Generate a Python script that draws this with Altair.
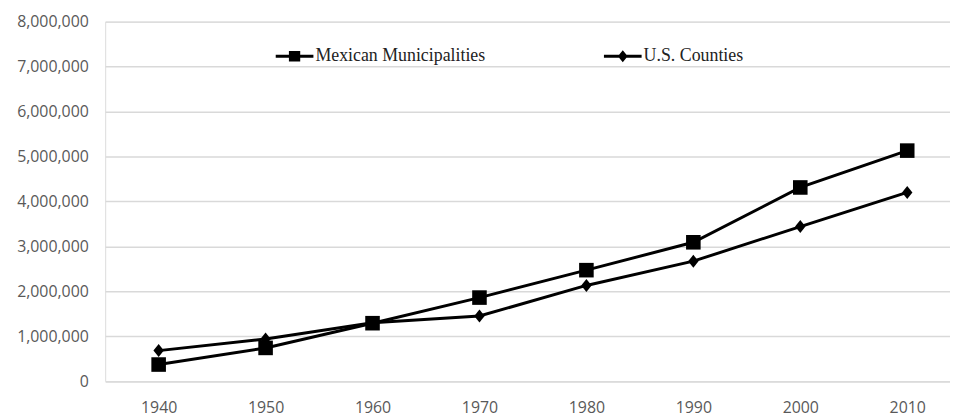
import altair as alt
import pandas as pd

years = [1940, 1950, 1960, 1970, 1980, 1990, 2000, 2010]
mexican = [370000, 740000, 1290000, 1860000, 2470000, 3090000, 4310000, 5130000]
us = [680000, 940000, 1300000, 1450000, 2130000, 2670000, 3440000, 4200000]
series = ["Mexican Municipalities", "U.S. Counties"]
y_ticks = [0, 1000000, 2000000, 3000000, 4000000, 5000000, 6000000, 7000000, 8000000]

rows = []
for name, vals in zip(series, [mexican, us]):
    for yr, v in zip(years, vals):
        rows.append({"year": yr, "value": v, "series": name, "legend_series": name})
df = pd.DataFrame(rows)

SQ = "M-1,-1H1V1H-1Z"
DI = "M0,-1.25L1,0L0,1.25L-1,0Z"
LEG_SQ = "M-1,-0.08H1V0.08H-1Z M-0.3,-0.28H0.3V0.28H-0.3Z"
LEG_DI = "M-1,-0.08H1V0.08H-1Z M0,-0.32L0.26,0L0,0.32L-0.26,0Z"

x = alt.X("year:Q", scale=alt.Scale(domain=[1935, 2014], nice=False, zero=False),
          axis=alt.Axis(values=years, format="d", grid=False, ticks=False, domain=False,
                        labelFont="Open Sans", labelFontSize=16, labelColor="#595959",
                        labelPadding=19, title=None))
y = alt.Y("value:Q", scale=alt.Scale(domain=[0, 8000000], nice=False),
          axis=alt.Axis(values=y_ticks, format=",d", ticks=False, domain=False,
                        gridColor="#d9d9d9", gridWidth=1.5,
                        labelFont="Open Sans", labelFontSize=16, labelColor="#595959",
                        labelPadding=17, title=None))

lines = alt.Chart(df).mark_line(color="black", strokeWidth=3).encode(
    x=x, y=y, detail="series:N")

points = alt.Chart(df).mark_point(filled=True, color="black", opacity=1).encode(
    x=x, y=y,
    shape=alt.Shape("series:N", scale=alt.Scale(domain=series, range=[SQ, DI]), legend=None),
    size=alt.condition(alt.datum.series == "Mexican Municipalities", alt.value(216), alt.value(110)),
)

legend_layer = alt.Chart(df).mark_point(filled=True, color="black", opacity=1).encode(
    x=x, y=y,
    shape=alt.Shape("legend_series:N",
                    scale=alt.Scale(domain=series, range=[LEG_SQ, LEG_DI]),
                    legend=alt.Legend(orient="none", legendX=172, legendY=16,
                                      direction="horizontal", title=None,
                                      labelFont="Liberation Serif", labelFontSize=18,
                                      labelColor="#222222", labelOffset=2, labelLimit=400,
                                      columnPadding=119, symbolSize=1444, padding=0,
                                      symbolFillColor="black", symbolStrokeColor="black",
                                      symbolStrokeWidth=0, symbolOpacity=1)),
).transform_filter("datum.year < 0")

chart = alt.layer(lines, points, legend_layer).resolve_scale(
    shape="independent"
).resolve_legend(shape="independent").properties(
    width=852, height=362.6,
    autosize=alt.AutoSizeParams(type="none"),
    padding={"left": 98, "top": 12, "right": 0, "bottom": 36},
).configure_view(stroke=None).configure(background="white")

chart.save("out.html", embed_options={"renderer": "svg", "actions": False})
